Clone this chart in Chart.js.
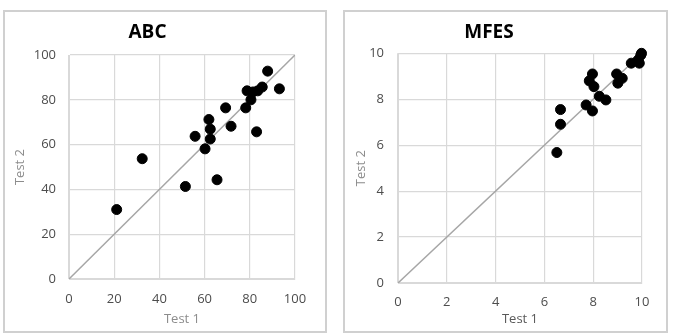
<!DOCTYPE html>
<html>
<head>
<meta charset="utf-8">
<script src="https://cdn.jsdelivr.net/npm/chart.js@4.4.1/dist/chart.umd.min.js"></script>
<style>
    html, body { margin: 0; padding: 0; background: #fff; }
    body { width: 673px; height: 336px; position: relative; overflow: hidden; }
    .panel { position: absolute; box-sizing: border-box; border: 2px solid #d0d0d0; }
    canvas { position: absolute; top: 0; }
</style>
</head>
<body>
<div class="panel" style="left:3px; top:10px; width:324px; height:323px;"></div>
<div class="panel" style="left:343px; top:10px; width:325px; height:323px;"></div>
<canvas id="abcChart" width="336" height="336" style="left:0;"></canvas>
<canvas id="mfesChart" width="337" height="336" style="left:336px;"></canvas>

<script>
// ABC scores (Test 1 vs Test 2)
const abcTest1 = [21.1, 32.4, 51.5, 55.8, 60.2, 61.9, 62.5, 62.5, 65.5, 69.3, 71.7, 78.2, 78.8, 80.5, 81.4, 83.5, 83.0, 85.5, 87.9, 93.1];
const abcTest2 = [31.0, 53.7, 41.3, 63.7, 58.1, 71.2, 66.9, 62.5, 44.3, 76.4, 68.2, 76.4, 84.0, 80.0, 83.5, 84.0, 65.7, 85.7, 92.8, 84.9];
const abcTicks = [0, 20, 40, 60, 80, 100];

// MFES scores (Test 1 vs Test 2)
const mfesTest1 = [6.51, 6.66, 6.66, 7.71, 7.97, 7.84, 7.97, 8.03, 8.25, 8.52, 8.96, 9.01, 9.19, 9.56, 9.84, 9.89, 9.95, 9.98];
const mfesTest2 = [5.68, 6.91, 7.55, 7.75, 7.49, 8.80, 9.10, 8.55, 8.13, 7.97, 9.10, 8.70, 8.91, 9.57, 9.71, 9.57, 9.92, 10.0];
const mfesTicks = [0, 2, 4, 6, 8, 10];

const FONT = "'Open Sans', 'Liberation Sans', sans-serif";

function createScatter(canvasId, cfg) {
    const ctx = document.getElementById(canvasId).getContext('2d');
    const points = cfg.xs.map((x, i) => ({ x: x, y: cfg.ys[i] }));
    const lo = cfg.ticks[0];
    const hi = cfg.ticks[cfg.ticks.length - 1];
    const setTicks = scale => { scale.ticks = cfg.ticks.map(v => ({ value: v })); };

    return new Chart(ctx, {
        type: 'scatter',
        data: {
            datasets: [
                {
                    label: cfg.title,
                    data: points,
                    backgroundColor: '#000',
                    borderColor: '#000',
                    pointRadius: 5,
                    pointHoverRadius: 5,
                    clip: false
                },
                {
                    type: 'line',
                    label: 'y = x',
                    data: [{ x: lo, y: lo }, { x: hi, y: hi }],
                    borderColor: '#a6a6a6',
                    borderWidth: 1.5,
                    pointRadius: 0,
                    fill: false
                }
            ]
        },
        options: {
            responsive: false,
            animation: false,
            layout: {
                padding: { left: 0, right: cfg.padRight, top: 10, bottom: 3 }
            },
            plugins: {
                legend: { display: false },
                tooltip: { enabled: false },
                title: {
                    display: true,
                    text: cfg.title,
                    color: '#000',
                    font: { family: FONT, size: 19, weight: 'bold', lineHeight: 1.2 },
                    padding: { top: 11, bottom: cfg.titleBottom }
                }
            },
            scales: {
                x: {
                    type: 'linear',
                    min: lo,
                    max: hi,
                    afterBuildTicks: setTicks,
                    afterFit: s => { s.height = cfg.xHeight; },
                    grid: { color: '#d9d9d9', lineWidth: 1.2, drawTicks: false },
                    border: { color: '#d9d9d9' },
                    ticks: {
                        color: '#4d4d4d',
                        padding: cfg.xTickPad,
                        maxRotation: 0,
                        font: { family: FONT, size: 13 }
                    },
                    title: {
                        display: true,
                        text: 'Test 1',
                        color: cfg.xTitleColor,
                        padding: { top: 0, bottom: 6 },
                        font: { family: FONT, size: 13 }
                    }
                },
                y: {
                    type: 'linear',
                    min: lo,
                    max: hi,
                    afterBuildTicks: setTicks,
                    afterFit: s => { s.width = cfg.yWidth; },
                    grid: { color: '#d9d9d9', lineWidth: 1.2, drawTicks: false },
                    border: { color: '#d9d9d9' },
                    ticks: {
                        color: '#4d4d4d',
                        padding: cfg.yTickPad,
                        font: { family: FONT, size: 13 }
                    },
                    title: {
                        display: true,
                        text: 'Test 2',
                        color: '#8c8c8c',
                        padding: { top: cfg.yTitlePad, bottom: 0 },
                        font: { family: FONT, size: 13 }
                    }
                }
            }
        }
    });
}

createScatter('abcChart', {
    title: 'ABC',
    xs: abcTest1,
    ys: abcTest2,
    ticks: abcTicks,
    padRight: 41,
    titleBottom: 11.2,
    xHeight: 54,
    yWidth: 69,
    xTickPad: 12,
    yTickPad: 13,
    yTitlePad: 12,
    xTitleColor: '#8c8c8c'
});

createScatter('mfesChart', {
    title: 'MFES',
    xs: mfesTest1,
    ys: mfesTest2,
    ticks: mfesTicks,
    padRight: 31,
    titleBottom: 9.5,
    xHeight: 50,
    yWidth: 62,
    xTickPad: 11.5,
    yTickPad: 14,
    yTitlePad: 17,
    xTitleColor: '#595959'
});
</script>
</body>
</html>
